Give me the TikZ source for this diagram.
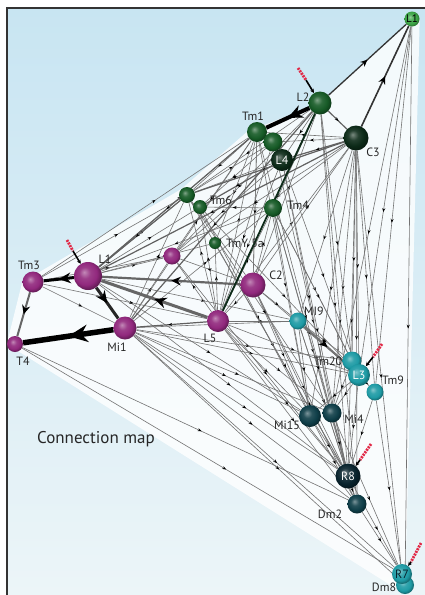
\documentclass[tikz,border=0pt]{standalone}
\usepackage{fontspec}
\setmainfont{PT Sans}
\usetikzlibrary{arrows.meta,decorations.markings}
\pgfdeclarelayer{back}\pgfdeclarelayer{edges}
\pgfsetlayers{back,edges,main}
\definecolor{bgblue}{RGB}{200,229,242}
\definecolor{bgpale}{RGB}{236,245,248}
\definecolor{gLt}{RGB}{60,165,70}
\definecolor{gD}{RGB}{22,90,38}
\definecolor{gDD}{RGB}{12,42,24}
\definecolor{pur}{RGB}{145,40,125}
\definecolor{tl}{RGB}{30,155,165}
\definecolor{tlD}{RGB}{15,62,72}
\definecolor{tlDD}{RGB}{8,35,45}
\definecolor{redmk}{RGB}{225,40,70}
\colorlet{sphc}{gD}
\pgfdeclareradialshading[sphc]{mysph}{\pgfqpoint{-7bp}{7bp}}{%
  color(0bp)=(sphc!55!white); color(10bp)=(sphc!90!white);
  color(20bp)=(sphc); color(28bp)=(sphc!65!black); color(50bp)=(sphc!40!black)}
\tikzset{
  sph/.style 2 args={circle,inner sep=0pt,minimum size=#2,/utils/exec={\colorlet{sphc}{#1}},shading=mysph},
  lab/.style={font=\fontsize{12}{12}\selectfont,inner sep=0pt,text=black!85},
  wlab/.style={font=\fontsize{12}{12}\selectfont,inner sep=0pt,text=white},
  midarr/.style={postaction={decorate,decoration={markings,
     mark=at position 0.55 with {\arrow{Stealth[length=4pt,width=3pt,color=black]}}}}},
  ed/.style={draw=black!55,line width=0.6pt,midarr},
  edm/.style={draw=black!62,line width=1.2pt,midarr},
  heavy/.style 2 args={draw=#1,line width=#2,postaction={decorate,decoration={markings,
     mark=at position 0.5 with {\arrow{Stealth[length=3*#2+3pt,width=2.6*#2+3pt,color=black]}}}}},
  redtail/.style={draw=redmk,line width=2.8pt,dash pattern=on 2pt off 1pt},
  inarr/.style={draw=black,line width=1.6pt,-{Stealth[length=4pt,width=4pt]}}
}
\begin{document}
\begin{tikzpicture}[x=1pt,y=-1pt]
\useasboundingbox (0,0) rectangle (425,595);
% nodes
\node[sph={gLt}{15}] (gL1) at (412,19) {};
\node[sph={gD}{23}] (L2) at (320,103) {};
\node[sph={gD}{20}] (Tm1) at (257,132) {};
\node[sph={gD}{19}] (Tmx) at (273,142) {};
\node[sph={gDD}{22}] (L4) at (282,160) {};
\node[sph={gDD}{25}] (C3) at (356,138) {};
\node[sph={gD}{16}] (Tm6a) at (187,195) {};
\node[sph={gD}{14}] (Tm6b) at (200,207) {};
\node[sph={gD}{18}] (Tm4) at (273,208) {};
\node[sph={gD}{12}] (TmY) at (215,243) {};
\node[sph={pur}{17}] (Pu) at (172,256) {};
\node[sph={pur}{28}] (L1) at (88,276) {};
\node[sph={pur}{21}] (Tm3) at (33,282) {};
\node[sph={pur}{16}] (T4) at (15,344) {};
\node[sph={pur}{23}] (Mi1) at (125,328) {};
\node[sph={pur}{22}] (L5) at (218,321) {};
\node[sph={pur}{25}] (C2) at (253,285) {};
\node[sph={tl}{17}] (MI9) at (298,321) {};
\node[sph={tl}{19}] (Tm20) at (352,361) {};
\node[sph={tl}{22}] (L3) at (359,375) {};
\node[sph={tl}{17}] (Tm9) at (375,392) {};
\node[sph={tlD}{22}] (Mi15) at (310,416) {};
\node[sph={tlD}{19}] (Mi4) at (332,413) {};
\node[sph={tlDD}{25}] (R8) at (348,476) {};
\node[sph={tlD}{19}] (Dm2) at (357,504) {};
\node[sph={tl}{18}] (Dm8) at (405,585) {};
\node[sph={tl}{20}] (R7) at (402,574) {};
% labels
\node[font=\fontsize{11}{11}\selectfont,inner sep=0pt,text=black] (tgL1) at (gL1) {L1};
\node[lab] (tL2) at (303,97) {L2};
\node[lab] (tTm1) at (253,116) {Tm1};
\node[wlab] (tL4) at (L4) {L4};
\node[lab] (tC3) at (373,152) {C3};
\node[lab] (tTm6) at (221,200) {Tm6};
\node[lab] (tTm4) at (298,205) {Tm4};
\node[lab] (tTmY) at (245,243) {TmY 5a};
\node[lab] (tL1) at (105,259) {L1};
\node[lab] (tTm3) at (29,265) {Tm3};
\node[lab] (tT4) at (23,361) {T4};
\node[lab] (tMi1) at (117,347) {Mi1};
\node[lab] (tL5) at (210,338) {L5};
\node[lab] (tC2) at (276,275) {C2};
\node[lab] (tMI9) at (314,311) {MI9};
\node[lab] (tTm20) at (328,361) {Tm20};
\node[wlab] (tL3) at (L3) {L3};
\node[lab] (tTm9) at (393,380) {Tm9};
\node[lab] (tMi15) at (287,425) {Mi15};
\node[lab] (tMi4) at (354,419) {Mi4};
\node[wlab] (tR8) at (R8) {R8};
\node[lab] (tDm2) at (330,514) {Dm2};
\node[font=\fontsize{12}{12}\selectfont,inner sep=0pt,text=tlDD] (tR7) at (R7) {R7};
\node[lab] (tDm8) at (384,587) {Dm8};
\node[font=\fontsize{17}{17}\selectfont,text=black!85,inner sep=0pt] (title) at (96,439) {Connection map};
% input markers
\coordinate (iL2) at (306,80);
\coordinate (iL1) at (73,251);
\coordinate (iL3) at (373,357);
\coordinate (iR8) at (360,460);
\coordinate (iR7) at (411,562);
\begin{pgfonlayer}{back}
  \fill[top color=bgblue,bottom color=bgpale] (7,8) rectangle (425,595);
  \fill[white,opacity=0.8] (gL1.center) -- (L2.center) -- (Tm1.west) -- (Tm6a.north west) -- (Tm3.west) -- (T4.west) -- (Dm8.south) -- (gL1.east) -- cycle;
  \draw[black!80,line width=1.2pt] (7,595) -- (7,8) -- (425,8);
\end{pgfonlayer}
\begin{pgfonlayer}{edges}
\foreach \a/\b in {Mi1/Mi15,Mi1/Mi4,Mi1/R8,Mi1/Dm2,Mi1/R7,Mi1/L3,Mi1/Tm20,Mi1/MI9,Mi1/Tm4,Mi1/Tm1,Mi1/Tm6a,Mi1/Pu,Mi1/Dm8,
  L1/Tm6a,L1/Tm1,L1/Pu,L1/TmY,L1/MI9,L1/Mi15,L1/R8,L1/Tm6b,
  Tm3/Tm6a,Tm3/Mi1,Tm3/L5,Tm3/Tm1,T4/R7,T4/Dm2,Tm3/Pu,
  L5/Tm6a,L5/Tm1,L5/C3,L5/Tm4,L5/Mi15,L5/Mi4,L5/R8,L5/Dm2,L5/L3,L5/MI9,L5/Pu,L5/TmY,L5/Tm6b,
  C2/L2,C2/C3,C2/Tm1,C2/Mi15,C2/R8,C2/L3,C2/Tm4,C2/L5,C2/MI9,C2/Dm2,C2/Pu,
  Tm6a/L4,Tm6a/R8,Tm6a/Mi4,Tm6b/L3,Tm6a/C2,Tm6b/Mi15,Tm6a/Tmx,
  Tm1/Pu,Tm1/TmY,Tm1/Mi15,Tm1/R8,Tm1/C2,Tm1/Tm6a,Tmx/L5,Tmx/R8,Tmx/Tm6b,
  C3/Tm1,C3/Pu,C3/L3,C3/Tm9,C3/R8,C3/Dm2,C3/R7,C3/Mi4,C3/Mi15,C3/MI9,C3/Tmx,C3/TmY,C3/Tm20,
  L2/L4,L2/Tm20,L2/R8,L2/Tm4,L2/Tm6a,L2/Pu,L2/Dm2,
  gL1/L3,gL1/Dm8,gL1/Tm9,gL1/Mi4,
  Tm4/Tm20,Tm4/R8,Tm4/Dm2,Tm4/L3,Tm4/Mi15,Tm4/Tm6b,Tm4/L1,
  L4/Mi4,L4/L3,L4/R8,L4/L5,L4/Pu,
  MI9/R8,MI9/Mi15,MI9/Tm20,MI9/Dm2,
  L3/Mi4,L3/R8,L3/Tm9,L3/Mi15,Tm20/Mi4,Tm9/R8,Tm9/R7,
  Mi15/R8,Mi4/R8,R8/Dm2,Dm2/R7,R8/R7,Mi15/Dm2,Mi4/R7,TmY/R8,Pu/R8}
  \draw[ed] (\a) -- (\b);
\foreach \a/\b in {C3/Tm6a,C3/L1,Tm1/L1,L2/Mi1,C3/L4,L4/Tm6b,L2/C3,L5/Mi1,Tm6a/L1}
  \draw[edm] (\a) -- (\b);
\draw[heavy={black!55}{2pt}] (MI9) -- (L3);
\draw[heavy={black!60}{2.2pt}] (C2) -- (L1);
\draw[heavy={black!60}{3pt}] (L5) -- (L1);
\draw[heavy={gDD}{1.8pt}] (L2) -- (L5);
\draw[heavy={black!80}{1.6pt}] (C3) -- (gL1);
\draw[heavy={black!80}{1.3pt}] (L2) -- (gL1);
\draw[heavy={black!60}{2pt}] (Tm3) -- (T4);
\draw[heavy={black}{3pt}] (L1) -- (Tm3);
\draw[heavy={black!85}{3pt}] (L1) -- (Mi1);
\draw[heavy={black}{4pt}] (L2) -- (Tm1);
\draw[heavy={black}{5.5pt}] (Mi1) -- (T4);
% input markers
\draw[redtail] (298,68) -- (iL2);
\draw[inarr] (iL2) -- (L2);
\draw[redtail] (67,240) -- (iL1);
\draw[inarr] (iL1) -- (L1);
\draw[redtail] (382,344) -- (iL3);
\draw[inarr] (iL3) -- (L3);
\draw[redtail] (371,444) -- (iR8);
\draw[inarr] (iR8) -- (R8);
\draw[redtail] (421,543) -- (iR7);
\draw[inarr] (iR7) -- (R7);
\end{pgfonlayer}
\end{tikzpicture}
\end{document}
